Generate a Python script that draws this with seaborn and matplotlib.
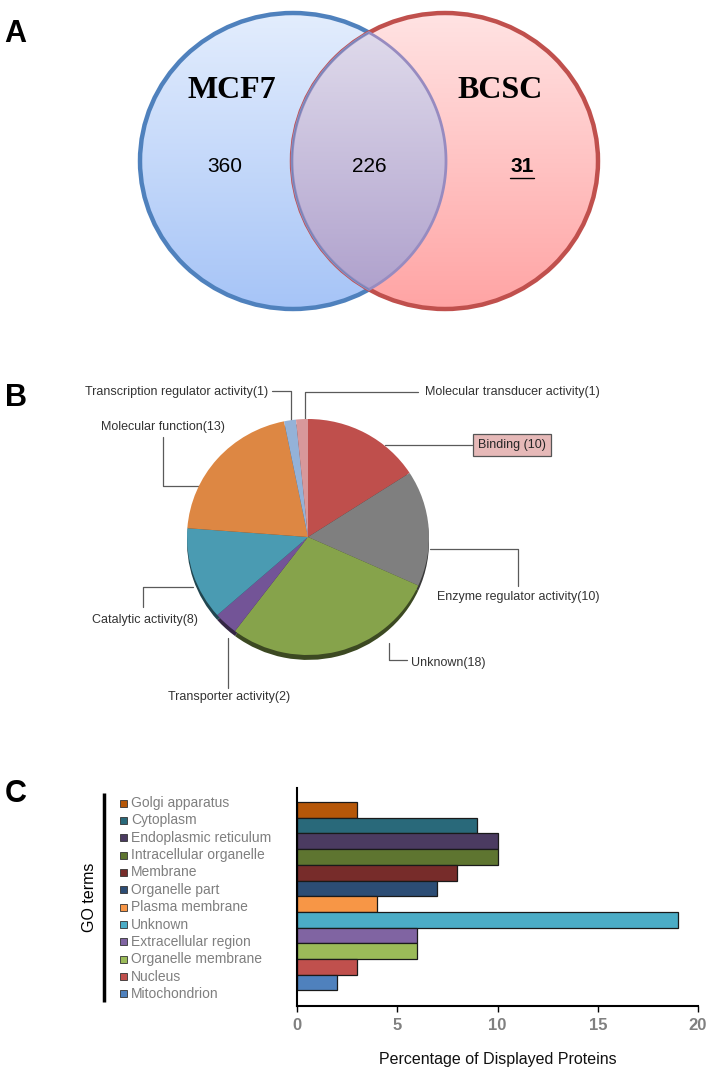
import numpy as np
import matplotlib
matplotlib.use("Agg")
import matplotlib.pyplot as plt
import seaborn as sns
import pandas as pd
from matplotlib.patches import Ellipse, Polygon, Rectangle
from matplotlib.colors import LinearSegmentedColormap

# ---------------- data ----------------
venn_sets = ["MCF7", "BCSC"]
venn_counts = [360, 226, 31]          # MCF7 only, shared, BCSC only

pie_labels = ["Binding (10)", "Enzyme regulator activity(10)", "Unknown(18)",
              "Transporter activity(2)", "Catalytic activity(8)",
              "Molecular function(13)", "Transcription regulator activity(1)",
              "Molecular transducer activity(1)"]
pie_values = [10, 10, 18, 2, 8, 13, 1, 1]
pie_colors = ["#BF4F4C", "#7F7F7F", "#86A34B", "#735497", "#4A9BB2",
              "#DD8743", "#94B2D8", "#D8989A"]

go_terms = ["Golgi apparatus", "Cytoplasm", "Endoplasmic reticulum",
            "Intracellular organelle", "Membrane", "Organelle part",
            "Plasma membrane", "Unknown", "Extracellular region",
            "Organelle membrane", "Nucleus", "Mitochondrion"]
go_values = [3, 9, 10, 10, 8, 7, 4, 19, 6, 6, 3, 2]
go_colors = ["#B65708", "#29697A", "#4B3B61", "#5E7530", "#772C2A", "#2C4D75",
             "#F79646", "#4BACC6", "#8064A2", "#9BBB59", "#C0504D", "#4F81BD"]
x_ticks = [0, 5, 10, 15, 20]

# ---------------- setup ----------------
sns.set_theme(style="white")
plt.rcParams["font.family"] = ["Liberation Sans", "DejaVu Sans"]
plt.rcParams["text.color"] = "black"

W, H = 718, 1070
fig = plt.figure(figsize=(W / 100, H / 100), dpi=100)


def fax(x0, y0, x1, y1):
    return [x0 / W, 1 - y1 / H, (x1 - x0) / W, (y1 - y0) / H]


ov = fig.add_axes([0, 0, 1, 1])
ov.axis("off")


def grad_fill(ax, patch, top, bottom, extent, z):
    patch.set_zorder(z + 0.5)
    ax.add_patch(patch)
    cmap = LinearSegmentedColormap.from_list("g", [top, bottom])
    g = np.linspace(0, 1, 256).reshape(-1, 1)
    im = ax.imshow(g, cmap=cmap, extent=extent, aspect="auto",
                   origin="upper", zorder=z, interpolation="bilinear")
    im.set_clip_path(patch)


# ---------------- panel A : Venn ----------------
cy, a2, b2 = 161, 306, 296
cx1, cx2 = 293, 445
e1 = Ellipse((cx1, cy), a2, b2, fill=False, ec="#4F81BD", lw=3.2)
grad_fill(ov, e1, "#E3EDFD", "#A6C4F7",
          (cx1 - a2 / 2, cx1 + a2 / 2, cy + b2 / 2, cy - b2 / 2), 1)
e2 = Ellipse((cx2, cy), a2, b2, fill=False, ec="#C0504D", lw=3.2)
grad_fill(ov, e2, "#FFE3E3", "#FFA4A4",
          (cx2 - a2 / 2, cx2 + a2 / 2, cy + b2 / 2, cy - b2 / 2), 2)
# lens
a, b = a2 / 2, b2 / 2
mid = (cx1 + cx2) / 2
t0 = np.arccos((mid - cx1) / a)
t1 = np.linspace(-t0, t0, 200)
t2 = np.linspace(np.pi - t0, np.pi + t0, 200)
pts = np.vstack([np.column_stack([cx1 + a * np.cos(t1), cy + b * np.sin(t1)]),
                 np.column_stack([cx2 + a * np.cos(t2), cy + b * np.sin(t2)])])
lens = Polygon(pts, closed=True, fill=False, ec="#978BC0", lw=2.0)
ytop = cy - b * np.sin(t0)
ybot = cy + b * np.sin(t0)
grad_fill(ov, lens, "#DFDAEB", "#B0A2CD", (cx2 - a, cx1 + a, ybot, ytop), 3)
# thin blue line on the lens' left arc
ov.plot(cx2 + a * np.cos(t2), cy + b * np.sin(t2), color="#6E86B8", lw=0.7, zorder=3.6)

ov.text(232, 90, venn_sets[0], family=["Liberation Serif", "DejaVu Serif"],
        weight="bold", fontsize=23, ha="center", va="center", zorder=5)
ov.text(500, 90, venn_sets[1], family=["Liberation Serif", "DejaVu Serif"],
        weight="bold", fontsize=23, ha="center", va="center", zorder=5)
ov.text(225, 167, str(venn_counts[0]), fontsize=15, ha="center", va="center", zorder=5)
ov.text(369, 167, str(venn_counts[1]), fontsize=15, ha="center", va="center", zorder=5)
ov.text(522, 167, str(venn_counts[2]), fontsize=15, weight="bold",
        ha="center", va="center", zorder=5)
ov.plot([510, 534], [177.5, 177.5], color="black", lw=1, zorder=5)

# ---------------- panel B : pie ----------------
pax = fig.add_axes(fax(187, 419, 429, 655))
wedges, _ = pax.pie(pie_values, colors=pie_colors, startangle=90,
                    counterclock=False, wedgeprops={"linewidth": 0},
                    shadow={"ox": 0.0, "oy": -0.03, "shade": 0.55, "alpha": 1.0})
pax.set_xlim(-1, 1)
pax.set_ylim(-1, 1)
pax.set_aspect("auto")
for p in pax.patches:
    p.set_clip_on(False)

lc = "#5A5A5A"
leaders = [
    [(385, 445), (472, 445)],                       # Binding
    [(430, 549), (518, 549), (518, 586)],           # Enzyme
    [(389, 643), (389, 660), (407, 660)],           # Unknown
    [(228, 638), (228, 688)],                       # Transporter
    [(193, 587), (143, 587), (143, 607)],           # Catalytic
    [(163, 437), (163, 486), (200, 486)],           # Molecular function
    [(272, 391), (291, 391), (291, 421)],           # Transcription
    [(305, 421), (305, 392), (418, 392)],           # Transducer
]
label_pos = [(512, 445, "center"), (437, 597, "left"), (411, 663, "left"),
             (168, 697, "left"), (92, 620, "left"), (101, 427, "left"),
             (85, 392, "left"), (425, 392, "left")]
for seg in leaders:
    xs, ys = zip(*seg)
    ov.plot(xs, ys, color=lc, lw=0.9, zorder=4)
for lab, (x, y, ha) in zip(pie_labels, label_pos):
    if lab.startswith("Binding"):
        ov.text(x, y, lab, fontsize=9, color="#262626", ha="center", va="center",
                zorder=6, bbox=dict(boxstyle="square,pad=0.4", fc="#E6B9B8",
                                    ec="#555555", lw=0.9))
    else:
        ov.text(x, y, lab, fontsize=9, color="#333333", ha=ha, va="center", zorder=6)

# ---------------- panel C : bars ----------------
bx = fig.add_axes(fax(297, 788, 698, 1006))
bx.patch.set_alpha(0)
df = pd.DataFrame({"term": go_terms, "value": go_values})
sns.barplot(data=df, x="value", y="term", hue="term", palette=go_colors,
            legend=False, width=1.0, edgecolor="#1A1A1A", linewidth=0.9,
            saturation=1, ax=bx)
bx.set_xlim(0, 20)
bx.set_ylim(12.5, -1.4)
bx.set_xticks(x_ticks)
bx.set_yticks([])
bx.set_ylabel("")
for s in ["top", "right"]:
    bx.spines[s].set_visible(False)
for s in ["left", "bottom"]:
    bx.spines[s].set_color("black")
    bx.spines[s].set_linewidth(1.5)
bx.tick_params(axis="x", bottom=True, direction="out", length=4, width=1,
               color="black", labelsize=12, labelcolor="#808080", pad=5)
for t in bx.get_xticklabels():
    t.set_fontweight("bold")
bx.set_xlabel("Percentage of Displayed Proteins", fontsize=11.5,
              color="#111111", labelpad=13)

# legend-like labels at left
ov.plot([104, 104], [793, 1002], color="black", lw=2.5, solid_capstyle="butt")
ov.text(90, 897, "GO terms", rotation=90, fontsize=11.5, ha="center", va="center")
for i, (t, c) in enumerate(zip(go_terms, go_colors)):
    y = 803 + i * 17.36
    ov.add_patch(Rectangle((119.5, y - 3.5), 7, 7, fc=c, ec="#333333", lw=0.6))
    ov.text(131, y, t, fontsize=10, color="#7F7F7F", ha="left", va="center")

# panel letters
for lab, (x, y) in zip(["A", "B", "C"], [(15, 34), (16, 398), (16, 794)]):
    ov.text(x, y, lab, fontsize=22, weight="bold", color="black",
            ha="center", va="center")

ov.set_xlim(0, W)
ov.set_ylim(H, 0)

fig.savefig("out.png", dpi=100)
